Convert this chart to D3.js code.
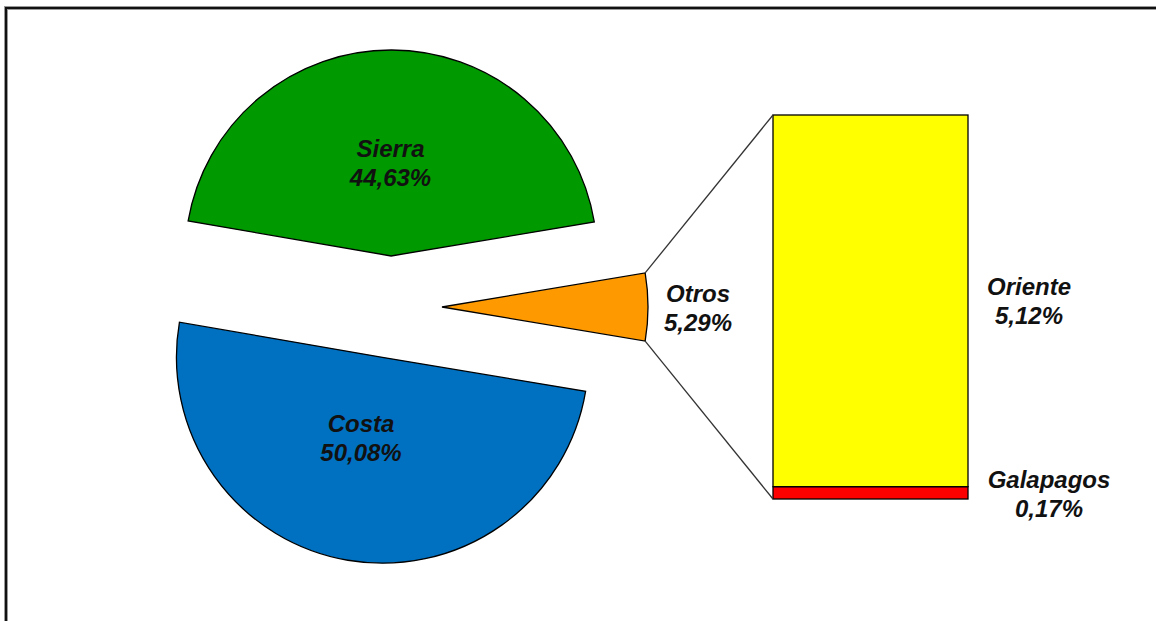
<!DOCTYPE html>
<html>
<head>
<meta charset="utf-8">
<script src="https://cdn.jsdelivr.net/npm/d3@7"></script>
<style>
  html, body { margin: 0; padding: 0; background: #fff; }
  svg { display: block; }
  text { font-family: "Liberation Sans", Arial, sans-serif; font-weight: bold; font-style: italic; fill: #111; }
</style>
</head>
<body>
<svg id="chart" width="1156" height="621"></svg>
<script>
// Pie slices (clockwise from the right-hand "Otros" wedge)
const pieCategories = ["Otros", "Costa", "Sierra"];
const pieValues = [5.29, 50.08, 44.63];
const pieColors = ["#FF9900", "#0070C0", "#009900"];

// Breakdown of "Otros" into the stacked bar (bottom to top)
const barCategories = ["Galapagos", "Oriente"];
const barValues = [0.17, 5.12];
const barColors = ["#FF0000", "#FFFF00"];

const fmt = v => v.toFixed(2).replace(".", ",") + "%";

const svg = d3.select("#chart");

// Outer frame
svg.append("rect")
  .attr("x", 6).attr("y", 8).attr("width", 1200).attr("height", 700)
  .attr("fill", "none").attr("stroke", "#999").attr("stroke-width", 4);
svg.append("rect")
  .attr("x", 6).attr("y", 8).attr("width", 1200).attr("height", 700)
  .attr("fill", "none").attr("stroke", "#111").attr("stroke-width", 2);

// ---- Pie ----
const cx = 391, cy = 307, R = 206, explode = 51;
const otrosSpan = pieValues[0] / d3.sum(pieValues) * 2 * Math.PI;
const start = Math.PI / 2 - otrosSpan / 2;
const pie = d3.pie().sort(null).value(d => d).startAngle(start).endAngle(start + 2 * Math.PI);
const arcs = pie(pieValues);
const arcGen = d3.arc().innerRadius(0).outerRadius(R);

const labelPos = {
  Sierra: [390.5, 157],
  Costa: [361, 432],
  Otros: [698, 302]
};

const pieG = svg.append("g").attr("transform", `translate(${cx},${cy})`);
arcs.forEach((a, i) => {
  const mid = (a.startAngle + a.endAngle) / 2;
  const ox = explode * Math.sin(mid), oy = -explode * Math.cos(mid);
  pieG.append("path")
    .attr("d", arcGen(a))
    .attr("transform", `translate(${ox},${oy})`)
    .attr("fill", pieColors[i])
    .attr("stroke", "#000")
    .attr("stroke-width", 1.3)
    .attr("stroke-linejoin", "miter");
  a.offset = [ox, oy];
});

// ---- Stacked bar ----
const y = d3.scaleLinear().domain([0, d3.sum(barValues)]).range([499, 115]);
const barX = 773, barW = 195;
let acc = 0;
barValues.forEach((v, i) => {
  svg.append("rect")
    .attr("x", barX).attr("y", y(acc + v))
    .attr("width", barW).attr("height", y(acc) - y(acc + v))
    .attr("fill", barColors[i]).attr("stroke", "#000").attr("stroke-width", 1.3);
  acc += v;
});

// ---- Connector lines from the Otros wedge to the bar ----
const ot = arcs[0];
const ends = [ot.startAngle, ot.endAngle].map(ang => [
  cx + ot.offset[0] + R * Math.sin(ang),
  cy + ot.offset[1] - R * Math.cos(ang)
]);
svg.append("line")
  .attr("x1", ends[0][0]).attr("y1", ends[0][1])
  .attr("x2", barX).attr("y2", y(d3.sum(barValues)))
  .attr("stroke", "#333").attr("stroke-width", 1.3);
svg.append("line")
  .attr("x1", ends[1][0]).attr("y1", ends[1][1])
  .attr("x2", barX).attr("y2", y(0))
  .attr("stroke", "#333").attr("stroke-width", 1.3);

// ---- Labels ----
function label(name, value, x, yb) {
  const t = svg.append("text").attr("text-anchor", "middle").attr("font-size", 24);
  t.append("tspan").attr("x", x).attr("y", yb).text(name);
  t.append("tspan").attr("x", x).attr("y", yb + 29).text(fmt(value));
}
pieCategories.forEach((c, i) => label(c, pieValues[i], labelPos[c][0], labelPos[c][1]));

const barLabelPos = {
  Galapagos: [1049, 488],
  Oriente: [1029, 295]
};
barCategories.forEach((c, i) => label(c, barValues[i], barLabelPos[c][0], barLabelPos[c][1]));
</script>
</body>
</html>
